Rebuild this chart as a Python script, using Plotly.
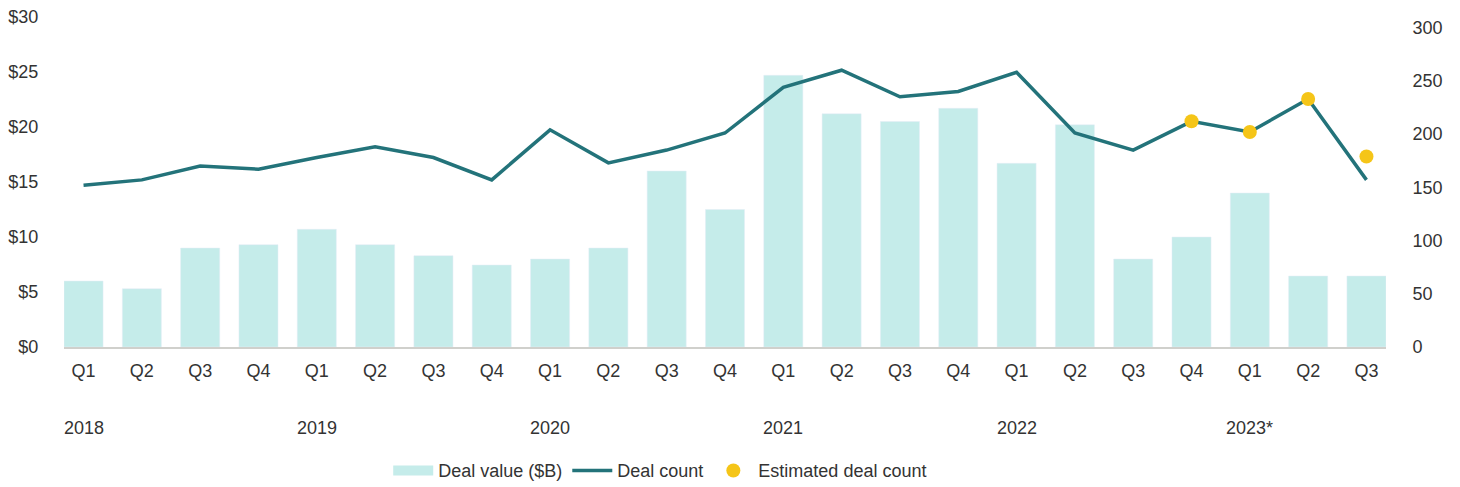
import plotly.graph_objects as go

quarters = ["Q1", "Q2", "Q3", "Q4"] * 5 + ["Q1", "Q2", "Q3"]
years = ["2018", "2019", "2020", "2021", "2022", "2023*"]
deal_value = [6.0, 5.3, 9.0, 9.3, 10.7, 9.3, 8.3, 7.45, 8.0, 9.0, 16.0, 12.5,
              24.7, 21.2, 20.5, 21.7, 16.7, 20.2, 8.0, 10.0, 14.0, 6.45, 6.45]
deal_count = [152, 157, 170, 167, 178, 188, 178, 157, 204, 173, 185, 201,
              244, 260, 235, 240, 258, 201, 185, 212, 202, 233, 157]
est_idx = [19, 20, 21, 22]
est_count = [212, 202, 233, 179]

x = list(range(len(quarters)))
FONT = "Liberation Sans, Arial, sans-serif"
TXT = "#333333"
FS = 18

fig = go.Figure()
fig.add_trace(go.Bar(x=x, y=deal_value, width=0.67, marker_color="#c5ecea",
                     name="Deal value ($B)", yaxis="y", showlegend=False))
# legend entry for the bars as a wide swatch
fig.add_trace(go.Scatter(x=[None], y=[None], mode="lines", line=dict(color="#c5ecea", width=14),
                         name="Deal value ($B)", yaxis="y"))
fig.add_trace(go.Scatter(x=x, y=deal_count, mode="lines", line=dict(color="#23737a", width=3.5),
                         name="Deal count", yaxis="y2"))
fig.add_trace(go.Scatter(x=est_idx, y=est_count, mode="markers",
                         marker=dict(color="#f5c518", size=14), name="Estimated deal count", yaxis="y2"))

for i, yr in enumerate(years):
    fig.add_annotation(x=i * 4, y=-0.245, xref="x", yref="paper", text=yr, showarrow=False,
                       font=dict(family=FONT, size=FS, color=TXT), yanchor="middle")

fig.update_layout(
    width=1452, height=479,
    margin=dict(l=56, r=74, t=9, b=140, autoexpand=False),
    plot_bgcolor="white", paper_bgcolor="white",
    font=dict(family=FONT, size=FS, color=TXT),
    showlegend=True,
    legend=dict(orientation="h", x=0.451, xanchor="center", y=-0.375, yanchor="middle",
                font=dict(family=FONT, size=FS, color=TXT), itemwidth=40, tracegroupgap=0),
    xaxis=dict(range=[-0.335, 22.335], tickvals=x, ticktext=quarters, showgrid=False,
               showline=True, linecolor="#d0d0cc", linewidth=2, zeroline=False,
               ticks="outside", ticklen=6, tickcolor="rgba(0,0,0,0)", automargin=False,
               ticklabeloverflow="allow"),
    yaxis=dict(range=[0, 30], tickvals=[0, 5, 10, 15, 20, 25, 30],
               ticktext=["$0", "$5", "$10", "$15", "$20", "$25", "$30"],
               showgrid=False, zeroline=False, ticks="outside", ticklen=21,
               tickcolor="rgba(0,0,0,0)", automargin=False, ticklabeloverflow="allow"),
    yaxis2=dict(range=[0, 310], tickvals=[0, 50, 100, 150, 200, 250, 300], overlaying="y",
                side="right", showgrid=False, zeroline=False, ticks="outside", ticklen=22,
                tickcolor="rgba(0,0,0,0)", automargin=False, ticklabeloverflow="allow"),
)
fig.write_html("out.html")
